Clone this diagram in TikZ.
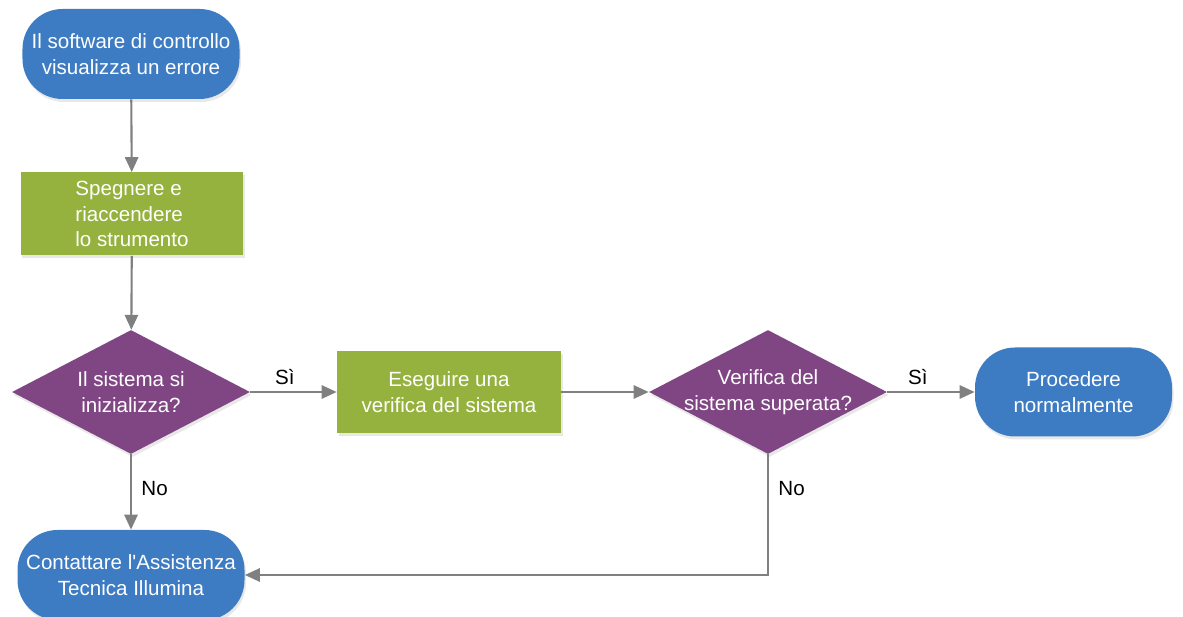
\documentclass[tikz,border=0pt]{standalone}
\usepackage{fontspec}
\setmainfont{Liberation Sans}
\usetikzlibrary{shapes.geometric, arrows.meta, positioning, shadows}
\definecolor{flowblue}{RGB}{61, 123, 194}
\definecolor{flowgreen}{RGB}{150, 178, 62}
\definecolor{flowpurple}{RGB}{128, 70, 132}
\definecolor{flowgray}{RGB}{128, 128, 128}
\newcommand{\flowfont}{\fontsize{11.7}{14.5}\selectfont}
\tikzstyle{boxshadow} = [drop shadow={opacity=0.18, shadow xshift=0.03cm, shadow yshift=-0.06cm}]
\tikzstyle{terminal} = [rectangle, rounded corners=0.8cm, fill=flowblue, text=white, align=center, inner sep=0pt, font=\flowfont, boxshadow]
\tikzstyle{process} = [rectangle, fill=flowgreen, text=white, inner sep=0pt, font=\flowfont, boxshadow]
\tikzstyle{decision} = [diamond, fill=flowpurple, inner sep=0pt, minimum width=4.76cm, minimum height=2.48cm, boxshadow]
\tikzstyle{decisiontext} = [text=white, align=center, font=\flowfont]
\tikzstyle{answer} = [text=black, font=\flowfont]
\tikzstyle{arrow} = [line width=1.2pt, flowgray, -{Triangle[length=8.5pt,width=7.5pt]}]

\begin{document}
\begin{tikzpicture}
\useasboundingbox (0,0) rectangle (23.66,12.32);

% Nodes
\node[terminal, minimum width=4.34cm, minimum height=1.8cm] (error) at (2.62,11.24) {Il software di controllo\\visualizza un errore};
\node[process, align=left, minimum width=4.44cm, minimum height=1.66cm] (restart) at (2.64,8.04) {Spegnere e\\riaccendere\\lo strumento};
\node[decision, label={[decisiontext]center:Il sistema si\\inizializza?}] (init) at (2.62,4.48) {};
\node[process, align=center, minimum width=4.48cm, minimum height=1.64cm] (check) at (8.98,4.48) {Eseguire una\\verifica del sistema};
\node[decision, label={[decisiontext]center:Verifica del\\sistema superata?}] (passed) at (15.36,4.48) {};
\node[terminal, minimum width=3.94cm, minimum height=1.78cm] (proceed) at (21.47,4.48) {Procedere\\normalmente};
\node[terminal, minimum width=4.54cm, minimum height=1.8cm] (support) at (2.62,0.82) {Contattare l\textquotesingle Assistenza\\Tecnica Illumina};

% Connectors
\draw[arrow] (error) -- (restart);
\draw[arrow] (restart) -- (init);
\draw[arrow] (init.east) -- node[answer, pos=0.4, above] {Sì} (check.west);
\draw[arrow] (check.east) -- (passed.west);
\draw[arrow] (passed.east) -- node[answer, pos=0.35, above] {Sì} (proceed.west);
\draw[arrow] (init.south) -- node[answer, pos=0.45, right, xshift=2pt] {No} (support.north);
\draw[arrow] (passed.south) |- node[answer, pos=0.14, right, xshift=2pt] {No} (support.east);
\end{tikzpicture}
\end{document}
